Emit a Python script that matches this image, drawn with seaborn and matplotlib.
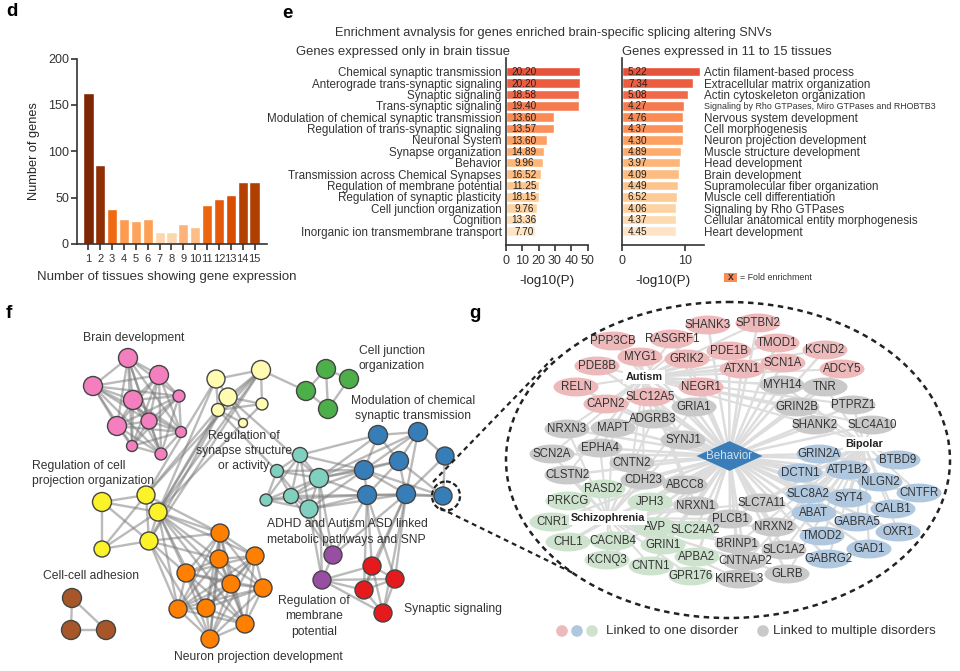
from itertools import combinations
import pandas as pd
import matplotlib
matplotlib.use("Agg")
import matplotlib.pyplot as plt
from matplotlib.patches import Ellipse, Rectangle
from matplotlib.path import Path
from matplotlib.transforms import Affine2D
import seaborn as sns

# panel d
tissue_counts = [str(i) for i in range(1, 16)]
gene_counts = [163, 85, 38, 27, 25, 27, 13, 13, 22, 18, 42, 48, 53, 67, 67]
d_colors = ["#7f2704", "#8f2f03", "#f16913", "#fd9b50", "#fda35c", "#fd9f54", "#fdd6ae", "#fdd6ae",
            "#fdb27a", "#fdbd87", "#ee6510", "#e55a0a", "#d94e01", "#b54003", "#b04002"]

# panel e
brain_terms = ["Chemical synaptic transmission", "Anterograde trans-synaptic signaling", "Synaptic signaling",
               "Trans-synaptic signaling", "Modulation of chemical synaptic transmission",
               "Regulation of trans-synaptic signaling", "Neuronal System", "Synapse organization", "Behavior",
               "Transmission across Chemical Synapses", "Regulation of membrane potential",
               "Regulation of synaptic plasticity", "Cell junction organization", "Cognition",
               "Inorganic ion transmembrane transport"]
brain_logp = [45.1, 45.1, 44.5, 44.5, 29.5, 29.5, 25, 23.4, 23, 21.5, 20.1, 20.1, 19.1, 18.7, 17.9]
brain_fold = ["20.20", "20.20", "18.58", "19.40", "13.60", "13.57", "13.60", "14.89", "9.96", "16.52",
              "11.25", "18.15", "9.76", "13.36", "7.70"]
wide_terms = ["Actin filament-based process", "Extracellular matrix organization", "Actin cytoskeleton organization",
              "Signaling by Rho GTPases, Miro GTPases and RHOBTB3", "Nervous system development", "Cell morphogenesis",
              "Neuron projection development", "Muscle structure development", "Head development", "Brain development",
              "Supramolecular fiber organization", "Muscle cell differentiation", "Signaling by Rho GTPases",
              "Cellular anatomical entity morphogenesis", "Heart development"]
wide_logp = [12.3, 11.2, 10.4, 9.9, 9.7, 9.7, 9.6, 9.3, 9.15, 9.1, 8.9, 8.7, 8.6, 8.6, 8.5]
wide_fold = ["5.22", "7.34", "5.08", "4.27", "4.76", "4.37", "4.30", "4.89", "3.97", "4.09",
             "4.49", "6.52", "4.06", "4.37", "4.45"]
e_colors = ["#e5533a", "#ea5d41", "#f0694a", "#f57a50", "#fb8b55", "#fb9158", "#fda163", "#fdac6d",
            "#fdb677", "#fdbd82", "#fdc58d", "#fdcb95", "#fdd3a3", "#fddab0", "#fee3c4"]

# panel f network
node_id = ["P0", "P1", "P2", "P3", "P4", "P5", "P6", "P7", "P8", "P9",
           "L0", "L1", "L2", "L3", "L4", "L5", "G0", "G1", "G2", "G3",
           "T0", "T1", "T2", "T3", "T4", "T5", "B0", "B1", "B2", "B3", "B4", "B5", "B6", "B7",
           "U0", "U1", "R0", "R1", "R2", "R3", "Y0", "Y1", "Y2", "Y3", "Y4",
           "O0", "O1", "O2", "O3", "O4", "O5", "O6", "O7", "O8", "O9", "W0", "W1", "W2"]
node_x = [128, 159, 93, 133, 179, 117, 149, 181, 132, 161,
          216, 228, 218, 243, 261, 262, 326, 349, 306, 328,
          300, 277, 319, 291, 266, 309, 378, 418, 445, 399, 364, 367, 406, 443,
          333, 322, 372, 395, 364, 383, 102, 146, 158, 149, 102,
          220, 219, 186, 231, 178, 206, 210, 245, 255, 263, 72, 71, 106]
node_y = [358, 375, 386, 400, 396, 426, 421, 432, 446, 454,
          379, 397, 410, 423, 370, 404, 369, 379, 391, 409,
          455, 471, 478, 496, 500, 509, 435, 432, 456, 461, 470, 495, 494, 496,
          555, 580, 566, 579, 590, 613, 502, 495, 512, 541, 549,
          533, 559, 573, 584, 609, 608, 639, 624, 556, 588, 598, 630, 630]
node_r = [9.5, 9.5, 9.5, 9.5, 6, 9.5, 8, 5.5, 5.5, 6,
          9, 9, 6.5, 4.5, 9.5, 6, 9.5, 9.5, 9.5, 9.5,
          7.5, 6.5, 9.5, 7.5, 6, 9, 9.5, 9.5, 9, 9.5, 9.5, 9.5, 9.5, 9,
          9, 9, 9, 9, 9, 9, 9.5, 9, 9, 9, 8,
          9, 9, 9, 9, 9, 9, 9, 9, 9, 9, 9.5, 9.5, 9.5]
group_colors = {"P": "#f47fbf", "L": "#fffbb0", "G": "#4daf4a", "T": "#80d0c0", "B": "#377eb8",
                "U": "#984ea3", "R": "#e41a1c", "Y": "#fbf22a", "O": "#ff7f00", "W": "#a65628"}
edge_text = """L0-L1 L0-L2 L0-L4 L1-L2 L1-L3 L1-L4 L1-L5 L2-L3 L2-L4 L4-L5 L3-L5 L2-L5 L4-G2
G0-G1 G0-G2 G0-G3 G1-G3 G2-G3
T0-T1 T0-T2 T0-T3 T0-T4 T0-T5 T1-T2 T1-T3 T1-T4 T1-T5 T2-T3 T2-T4 T2-T5 T3-T4 T3-T5 T4-T5
B0-B1 B0-B3 B0-B4 B1-B2 B1-B3 B1-B4 B1-B6 B2-B7 B2-B6 B3-B4 B3-B5 B3-B6 B3-B7 B4-B5 B4-B6 B4-B7 B5-B6 B5-B7 B6-B7
T0-B0 T0-B4 T2-B0 T2-B3 T2-B4 T2-B5 T3-B5 T4-B5 T5-B5 T2-B1 T1-B4 T3-B4 T5-B4 T5-B6
U0-U1 T5-U0 T5-U1 T2-U1 T2-U0 T3-U0 B5-U0 B6-U0 U1-R0 U1-R1 U1-R2 U1-R3
R0-R1 R0-R2 R0-R3 R1-R2 R1-R3 R2-R3 B5-R0 B5-R1 B5-R2 B6-R0 B6-R1 B6-R2 B6-R3
Y0-Y1 Y0-Y2 Y0-Y3 Y0-Y4 Y1-Y2 Y1-Y3 Y1-Y4 Y2-Y3 Y2-Y4 Y3-Y4
Y1-L0 Y1-L1 Y2-L0 Y2-L1 Y2-L2 Y2-L4 Y3-L1 Y3-L4 Y1-L4 Y2-L3 L1-T2 L2-T1
Y2-O0 Y2-O1 Y2-O2 Y2-O3 Y2-O4 Y2-O5 Y2-O7 Y2-O8 Y3-O1 Y3-O2 Y3-O4 Y3-O0 Y1-O0 Y3-O6
W0-W1 W0-W2 W1-W2"""
dense_groups = ["P", "O"]

f_labels = [("Brain development", 134, 338, "center"), ("Cell junction", 392, 351, "center"),
            ("organization", 392, 366, "center"), ("Modulation of chemical", 413, 401, "center"),
            ("synaptic transmission", 413, 416, "center"), ("Regulation of", 244, 436, "center"),
            ("synapse structure", 244, 451, "center"), ("or activity", 244, 466, "center"),
            ("Regulation of cell", 32, 466, "left"), ("projection organization", 32, 481, "left"),
            ("Cell-cell adhesion", 91, 576, "center"), ("ADHD and Autism ASD linked", 267, 524, "left"),
            ("metabolic pathways and SNP", 267, 540, "left"), ("Regulation of", 314, 601, "center"),
            ("membrane", 314, 616, "center"), ("potential", 314, 632, "center"),
            ("Synaptic signaling", 404, 609, "left"), ("Neuron projection development", 258, 657, "center")]

# panel g network
gene_names = ["SHANK3", "SPTBN2", "RASGRF1", "PPP3CB", "PDE1B", "TMOD1", "MYG1", "GRIK2", "KCND2", "PDE8B", "ATXN1",
              "SCN1A", "ADCY5", "RELN", "NEGR1", "SLC12A5", "CAPN2",
              "MYH14", "TNR", "GRIA1", "GRIN2B", "PTPRZ1", "ADGRB3", "MAPT", "NRXN3", "SHANK2", "SLC4A10", "SYNJ1",
              "EPHA4", "SCN2A", "CNTN2", "CLSTN2", "CDH23", "ABCC8", "NRXN1", "PLCB1", "SLC7A11", "NRXN2", "BRINP1",
              "SLC1A2", "CNTNAP2", "KIRREL3", "GLRB",
              "GRIN2A", "BTBD9", "DCTN1", "ATP1B2", "NLGN2", "CNTFR", "SLC8A2", "SYT4", "CALB1", "ABAT", "GABRA5",
              "OXR1", "TMOD2", "GAD1", "GABRG2",
              "RASD2", "PRKCG", "JPH3", "CNR1", "AVP", "SLC24A2", "CHL1", "CACNB4", "GRIN1", "KCNQ3", "APBA2", "CNTN1",
              "GPR176"]
gene_x = [708, 758, 672, 613, 729, 777, 640, 687, 825, 597, 742, 783, 842, 576, 701, 650, 606,
          782, 825, 694, 797, 853, 653, 613, 567, 815, 872, 683, 600, 552, 632, 567, 643, 685, 696, 730, 762, 774, 737,
          784, 745, 739, 787,
          819, 898, 800, 848, 880, 919, 808, 849, 893, 814, 857, 898, 822, 869, 828,
          603, 568, 650, 552, 655, 695, 568, 613, 663, 607, 697, 651, 691]
gene_y = [325, 323, 339, 341, 351, 343, 357, 359, 350, 366, 369, 363, 369, 387, 387, 397, 404,
          385, 387, 407, 407, 405, 419, 428, 429, 425, 425, 440, 448, 454, 463, 475, 480, 485, 506, 519, 503, 527, 544,
          550, 561, 579, 574,
          454, 460, 473, 470, 482, 493, 494, 498, 509, 513, 522, 532, 536, 549, 559,
          489, 501, 502, 522, 527, 530, 542, 541, 545, 560, 557, 566, 576]
gene_class = ["Autism"] * 17 + ["Multiple"] * 26 + ["Bipolar"] * 15 + ["Schizophrenia"] * 13
# which disorders each of the grey genes is tied to
multi_links = ["AB", "AB", "AS", "AB", "AB", "AS", "AS", "AS", "AB", "AB", "AS", "AS", "AS", "AS", "AS", "AS", "AS",
               "AS", "BS", "BS", "BS", "BS", "BS", "BS", "BS", "BS"]
gene_colors = {"Autism": "#edb9ba", "Multiple": "#c9c9c9", "Bipolar": "#afc8df", "Schizophrenia": "#cee3ce"}
hub_names = {"A": "Autism", "B": "Bipolar", "S": "Schizophrenia"}
hub_x = {"A": 644, "B": 864, "S": 608}
hub_y = {"A": 377, "B": 444, "S": 518}
behavior_x = [729.5]
behavior_y = [456]

legend_x = [562, 577, 592, 763]
legend_y = [631, 631, 631, 631]
legend_kind = ["Autism", "Bipolar", "Schizophrenia", "Multiple"]

W, H = 960, 671
TEXT = "#333333"


def px_axes(fig, left, top, right, bottom):
    return fig.add_axes([left / W, 1 - bottom / H, (right - left) / W, (bottom - top) / H])


sns.set_theme(style="ticks")
plt.rcParams["font.family"] = ["Liberation Sans", "DejaVu Sans"]
plt.rcParams["axes.edgecolor"] = TEXT
plt.rcParams["xtick.color"] = TEXT
plt.rcParams["ytick.color"] = TEXT
plt.rcParams["text.color"] = TEXT

fig = plt.figure(figsize=(W / 100, H / 100), dpi=100, facecolor="white")

# d
ax_d = px_axes(fig, 77.3, 58.5, 267, 244)
sns.barplot(x=tissue_counts, y=gene_counts, hue=tissue_counts, palette=d_colors, width=0.86, saturation=1,
            legend=False, ax=ax_d)
ax_d.set_xlim(-0.94, 15.05)
ax_d.set_ylim(0, 200)
ax_d.set_yticks([0, 50, 100, 150, 200])
ax_d.tick_params(axis="y", labelsize=9, length=4, width=1.2, pad=2)
ax_d.tick_params(axis="x", labelsize=8, length=4, width=1.2, pad=3)
ax_d.set_ylabel("Number of genes", fontsize=9.2, labelpad=6)
sns.despine(ax=ax_d)
for spine in ax_d.spines.values():
    spine.set_linewidth(1.2)

# e
ax_l = px_axes(fig, 505.7, 58, 587.7, 245)
sns.barplot(x=brain_logp, y=brain_terms, hue=brain_terms, palette=e_colors, width=0.84, saturation=1,
            legend=False, ax=ax_l)
ax_l.set_xlim(0, 50)
ax_l.set_ylim(15.23, -1.2)
ax_l.set_xticks([0, 10, 20, 30, 40, 50])
for i, label in enumerate(brain_fold):
    ax_l.text(11.2, i + 0.05, label, fontsize=7.2, ha="center", va="center", color="#222222")

ax_r = px_axes(fig, 622, 58, 704, 245)
sns.barplot(x=wide_logp, y=wide_terms, hue=wide_terms, palette=e_colors, width=0.84, saturation=1,
            legend=False, ax=ax_r)
ax_r.set_xlim(0, 13)
ax_r.set_ylim(15.23, -1.2)
ax_r.set_xticks([0, 10])
ax_r.tick_params(axis="y", left=False, labelleft=False, right=False, labelright=True)
for i, label in enumerate(wide_fold):
    ax_r.text(2.5, i + 0.05, label, fontsize=7.2, ha="center", va="center", color="#222222")

for ax in (ax_l, ax_r):
    ax.set_xlabel("-log10(P)", fontsize=9.6, labelpad=6)
    ax.set_ylabel("")
    ax.tick_params(axis="x", labelsize=9, length=4, width=1.2, pad=3)
    ax.tick_params(axis="y", labelsize=8.4, length=0, pad=3)
    sns.despine(ax=ax)
    for spine in ax.spines.values():
        spine.set_linewidth(1.2)
ax_r.tick_params(axis="y", pad=0)
ax_r.get_yticklabels()[3].set_fontsize(6.4)

# overlay in pixel units for the two networks and the free text
ov = fig.add_axes([0, 0, 1, 1], zorder=5)
ov.patch.set_alpha(0)

nodes = pd.DataFrame({"id": node_id, "x": node_x, "y": node_y, "r": node_r})
nodes["group"] = nodes["id"].str[0]
lookup = nodes.set_index("id")

edge_pairs = [tuple(e.split("-")) for e in edge_text.split()]
for grp in dense_groups:
    edge_pairs += list(combinations(nodes.loc[nodes["group"] == grp, "id"], 2))
for a, b in edge_pairs:
    ov.plot([lookup.x[a], lookup.x[b]], [lookup.y[a], lookup.y[b]], color="#777777", lw=1.7, alpha=0.5, zorder=1,
            solid_capstyle="butt")

sns.scatterplot(data=nodes, x="x", y="y", hue="group", palette=group_colors, s=(nodes["r"] * 2 * 0.72) ** 2,
                edgecolor="#444444", linewidth=1.0, legend=False, zorder=3, ax=ov)

for text, x, y, align in f_labels:
    ov.text(x, y, text, fontsize=8.7, ha=align, va="center", zorder=6)

genes = pd.DataFrame({"gene": gene_names, "x": gene_x, "y": gene_y, "kind": gene_class})
multi_iter = iter(multi_links)
for row in genes.itertuples():
    ov.plot([behavior_x[0], row.x], [behavior_y[0], row.y], color="#dddddd", lw=1.8, zorder=1)
    if row.kind == "Multiple":
        links = next(multi_iter)
    else:
        links = {"Autism": "A", "Bipolar": "B", "Schizophrenia": "S"}[row.kind]
    for hub in links:
        ov.plot([hub_x[hub], row.x], [hub_y[hub], row.y], color="#dddddd", lw=1.5, zorder=1)

oval = Path.unit_circle().transformed(Affine2D().scale(1, 0.42))
sns.scatterplot(data=genes, x="x", y="y", hue="kind", palette=gene_colors, marker=oval, s=1050, edgecolor="none",
                legend=False, zorder=3, ax=ov)
for row in genes.itertuples():
    ov.text(row.x, row.y, row.gene, fontsize=8.3, ha="center", va="center", zorder=6)

for hub, name in hub_names.items():
    ov.text(hub_x[hub], hub_y[hub], name, fontsize=7.8, fontweight="bold", ha="center", va="center", zorder=6,
            color="#222222", bbox=dict(facecolor="white", edgecolor="none", pad=1.5))

diamond = Path([(-1, 0), (0, 0.45), (1, 0), (0, -0.45), (-1, 0)], closed=True)
sns.scatterplot(x=behavior_x, y=behavior_y, marker=diamond, s=(66 * 0.72) ** 2, color="#3a7db8", edgecolor="none",
                legend=False, zorder=4, ax=ov)
ov.text(behavior_x[0], behavior_y[0], "Behavior", fontsize=8.4, color="#cfe0f0", ha="center", va="center", zorder=6)

# dashed zoom outline
ov.add_patch(Ellipse((728, 460), 444, 316, fill=False, ec="#222222", lw=1.8, ls=(0, (2.2, 1.8)), zorder=4))
ov.add_patch(Ellipse((446, 496), 28, 29, fill=False, ec="#222222", lw=1.6, ls=(0, (2.2, 1.2)), zorder=4))
ov.plot([433, 553], [482, 358], color="#222222", lw=1.6, ls=(0, (2.2, 1.8)), zorder=4)
ov.plot([440, 573], [508, 573], color="#222222", lw=1.6, ls=(0, (2.2, 1.8)), zorder=4)

# legend of panel g
sns.scatterplot(x=legend_x, y=legend_y, hue=legend_kind, palette=gene_colors, s=70, edgecolor="none",
                legend=False, zorder=3, ax=ov)
ov.text(606, 631, "Linked to one disorder", fontsize=9.6, va="center", ha="left")
ov.text(773, 631, "Linked to multiple disorders", fontsize=9.6, va="center", ha="left")

# fold enrichment key and titles
ov.add_patch(Rectangle((724, 272.5), 13, 9.5, facecolor="#fb8b55", edgecolor="none"))
ov.text(730.5, 277.5, "x", fontsize=7.5, fontweight="bold", ha="center", va="center")
ov.text(740, 277.5, "= Fold enrichment", fontsize=6.4, ha="left", va="center")
ov.text(335, 33, "Enrichment avnalysis for genes enriched brain-specific splicing altering SNVs", fontsize=9.2,
        ha="left", va="center")
ov.text(296, 52, "Genes expressed only in brain tissue", fontsize=9.4, ha="left", va="center")
ov.text(622, 52, "Genes expressed in 11 to 15 tissues", fontsize=9.4, ha="left", va="center")
ov.text(166.5, 277, "Number of tissues showing gene expression", fontsize=9.5, ha="center", va="center")

for letter, x, y in [("d", 12, 12), ("e", 287, 14), ("f", 9, 313), ("g", 475, 314)]:
    ov.text(x, y, letter, fontsize=13.5, fontweight="bold", color="black", ha="center", va="center")

ov.set_xlim(0, W)
ov.set_ylim(H, 0)
ov.axis("off")

fig.savefig("out.png", dpi=100)
